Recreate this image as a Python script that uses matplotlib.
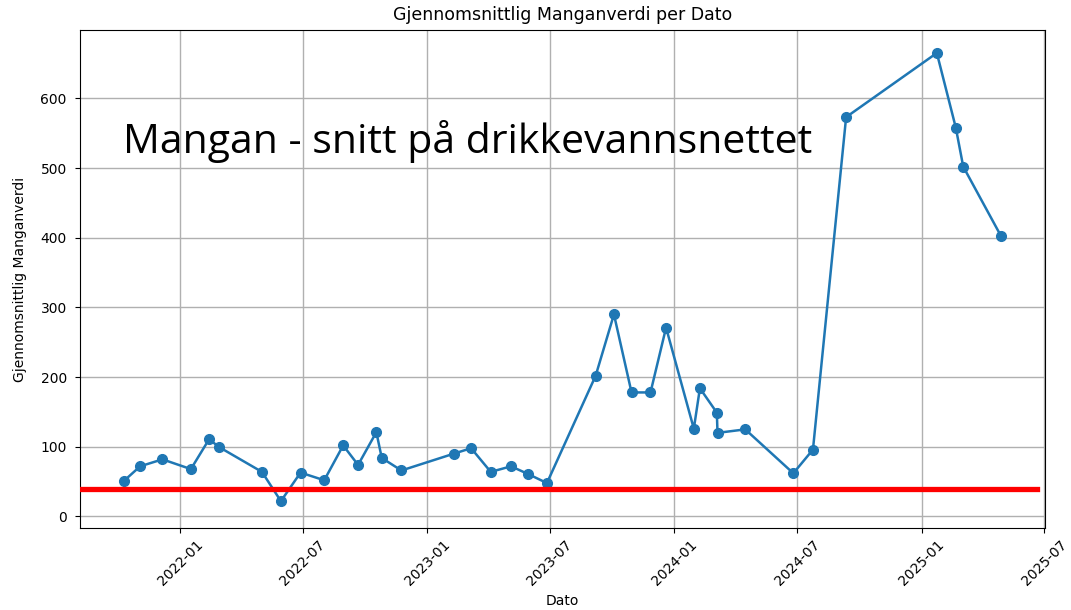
import matplotlib
matplotlib.use("Agg")
import matplotlib.pyplot as plt
import matplotlib.dates as mdates
import pandas as pd

dates = ["2021-10-10", "2021-11-03", "2021-12-06", "2022-01-17", "2022-02-13",
         "2022-02-27", "2022-05-02", "2022-05-30", "2022-06-28", "2022-08-02",
         "2022-08-30", "2022-09-21", "2022-10-18", "2022-10-26", "2022-11-24",
         "2023-02-09", "2023-03-07", "2023-04-05", "2023-05-05", "2023-05-30",
         "2023-06-27", "2023-09-07", "2023-10-04", "2023-10-30", "2023-11-27",
         "2023-12-20", "2024-01-30", "2024-02-08", "2024-03-04", "2024-03-05",
         "2024-04-15", "2024-06-25", "2024-07-24", "2024-09-11", "2025-01-23",
         "2025-02-20", "2025-03-03", "2025-04-28"]
values = [51, 72, 82, 68, 111,
          100, 64, 22, 63, 52,
          102, 74, 121, 84, 66,
          90, 98, 64, 72, 61,
          48, 202, 290, 178, 178,
          271, 126, 184, 149, 120,
          125, 62, 96, 573, 665,
          558, 502, 402]
limit_value = 39

title = "Gjennomsnittlig Manganverdi per Dato"
xlabel = "Dato"
ylabel = "Gjennomsnittlig Manganverdi"
overlay = "Mangan - snitt på drikkevannsnettet"

x = pd.to_datetime(dates)

fig = plt.figure(figsize=(10.71, 6.10), dpi=100)
ax = fig.add_axes([80 / 1071, (610 - 528) / 610, (1045 - 80) / 1071, (528 - 30) / 610])

ax.plot(x, values, marker="o", color="#1f77b4", linewidth=1.8, markersize=7)
ax.grid(True, color="#b0b0b0", linewidth=1.0)
ax.set_axisbelow(True)
ax.set_ylim(-16.5, 698)

ax.xaxis.set_major_locator(mdates.MonthLocator(bymonth=[1, 7]))
ax.xaxis.set_major_formatter(mdates.DateFormatter("%Y-%m"))
plt.setp(ax.get_xticklabels(), rotation=45)
ax.tick_params(labelsize=10)
ax.tick_params(axis="y", pad=6)

ax.set_title(title, fontsize=12.5, pad=7)
ax.set_xlabel(xlabel, fontsize=10)
ax.set_ylabel(ylabel, fontsize=10, labelpad=10)

ax.axhline(limit_value, xmin=0.0, xmax=0.992, color="red", linewidth=3.8, zorder=5)

ax.text(123 / 1071, 1 - 153 / 610, overlay, transform=fig.transFigure,
        fontsize=29.5, family="Open Sans", color="black", ha="left", va="baseline", zorder=6)

fig.savefig("out.png", dpi=100)
